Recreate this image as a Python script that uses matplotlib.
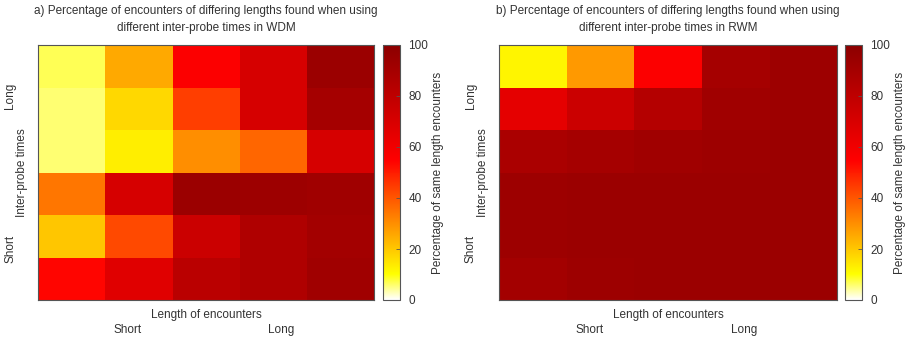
import numpy as np
import matplotlib
matplotlib.use("Agg")
import matplotlib.pyplot as plt
from matplotlib.colors import LinearSegmentedColormap

plt.rcParams['font.family'] = ['Liberation Sans', 'DejaVu Sans']

# Percentage of same-length encounters; rows from long (top) to short (bottom)
# inter-probe times, columns from short to long encounters.
wdm_values = [
    [7, 25, 56, 71, 94],
    [5.5, 17, 44, 71, 90],
    [5.5, 13, 30, 37, 71],
    [34, 71, 94, 93, 92],
    [20, 42, 75, 86, 91],
    [54, 67, 82, 86, 92],
]
rwm_values = [
    [12, 28, 56, 90, 93],
    [65, 75, 84, 92, 93],
    [88, 90, 92, 93, 94],
    [93, 94, 94, 94, 94],
    [93, 94, 94, 94, 94],
    [91, 93, 94, 94, 94],
]
titles = [
    "a) Percentage of encounters of differing lengths found when using\ndifferent inter-probe times in WDM",
    "b) Percentage of encounters of differing lengths found when using\ndifferent inter-probe times in RWM",
]
x_tick_labels = ["Short", "Long"]
y_tick_labels = ["Short", "Long"]
cbar_ticks = [0, 20, 40, 60, 80, 100]

cmap = LinearSegmentedColormap.from_list(
    "heat",
    [(0.0, (1, 1, 1)), (0.10, (1, 1, 0)), (0.55, (1, 0, 0)), (1.0, (0.55, 0, 0))],
)

W, H = 910, 338
fig = plt.figure(figsize=(W / 100, H / 100), dpi=100)
txt = "#333333"
fs = 8.5

def fx(px):
    return px / W

def fy(py):
    return 1 - py / H

panels = [
    (wdm_values, titles[0], 38, 374, 383, 400),
    (rwm_values, titles[1], 499, 837, 845, 862),
]
top, bottom = 45, 300

for values, title, x0, x1, cb0, cb1 in panels:
    data = np.array(values, dtype=float)
    nrows, ncols = data.shape
    ax = fig.add_axes([fx(x0), fy(bottom), fx(x1 - x0), (bottom - top) / H])
    im = ax.imshow(data[::-1], cmap=cmap, vmin=0, vmax=100, origin="lower",
                   aspect="auto", interpolation="nearest",
                   extent=(0, ncols, 0, nrows))
    ax.set_xticks([])
    ax.set_yticks([])
    for s in ax.spines.values():
        s.set_color("#555555")
        s.set_linewidth(0.8)

    # Axis labels with Short/Long markers
    ax.text(0.5, -0.035, "Length of encounters", transform=ax.transAxes,
            ha="center", va="top", fontsize=fs, color=txt)
    ax.text(0.268, -0.095, x_tick_labels[0], transform=ax.transAxes,
            ha="center", va="top", fontsize=fs, color=txt)
    ax.text(0.725, -0.095, x_tick_labels[1], transform=ax.transAxes,
            ha="center", va="top", fontsize=fs, color=txt)
    ax.text(-0.047, 0.5, "Inter-probe times", transform=ax.transAxes,
            ha="center", va="center", rotation=90, fontsize=fs, color=txt)
    ax.text(-0.083, 0.2, y_tick_labels[0], transform=ax.transAxes,
            ha="center", va="center", rotation=90, fontsize=fs, color=txt)
    ax.text(-0.083, 0.8, y_tick_labels[1], transform=ax.transAxes,
            ha="center", va="center", rotation=90, fontsize=fs, color=txt)

    fig.text(fx((x0 + x1) / 2), fy(19.5), title, ha="center", va="center",
             fontsize=fs, color=txt, linespacing=1.45)

    cax = fig.add_axes([fx(cb0), fy(bottom), fx(cb1 - cb0), (bottom - top) / H])
    cb = fig.colorbar(im, cax=cax, ticks=cbar_ticks)
    cb.outline.set_edgecolor("#555555")
    cb.outline.set_linewidth(0.8)
    cax.tick_params(axis="y", direction="in", length=3, width=0.6,
                    color="#555555", labelsize=fs, labelcolor=txt, pad=6)
    cb.set_label("Percentage of same length encounters", fontsize=fs,
                 color=txt, labelpad=3)

fig.savefig("out.png", dpi=100)
